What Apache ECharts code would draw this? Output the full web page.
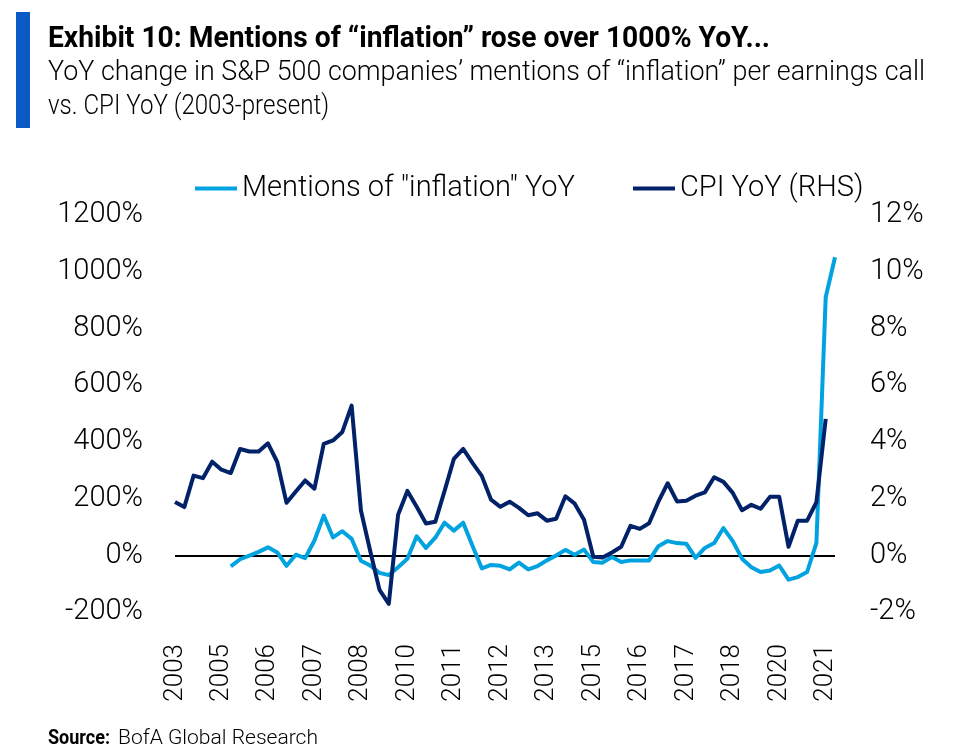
<!DOCTYPE html>
<html>
<head>
<meta charset="utf-8">
<script src="https://cdn.jsdelivr.net/npm/echarts@6/dist/echarts.min.js"></script>
<style>
html,body{margin:0;padding:0;background:#fff;}
#chart{width:960px;height:754px;}
</style>
</head>
<body>
<div id="chart"></div>
<script>
// Quarterly categories (labels shown every 5th quarter, as year)
const categories = [
 '2003Q4',
 '2004Q1','2004Q2','2004Q3','2004Q4',
 '2005Q1','2005Q2','2005Q3','2005Q4',
 '2006Q1','2006Q2','2006Q3','2006Q4',
 '2007Q1','2007Q2','2007Q3','2007Q4',
 '2008Q1','2008Q2','2008Q3','2008Q4',
 '2009Q1','2009Q2','2009Q3','2009Q4',
 '2010Q1','2010Q2','2010Q3','2010Q4',
 '2011Q1','2011Q2','2011Q3','2011Q4',
 '2012Q1','2012Q2','2012Q3','2012Q4',
 '2013Q1','2013Q2','2013Q3','2013Q4',
 '2014Q1','2014Q2','2014Q3','2014Q4',
 '2015Q1','2015Q2','2015Q3','2015Q4',
 '2016Q1','2016Q2','2016Q3','2016Q4',
 '2017Q1','2017Q2','2017Q3','2017Q4',
 '2018Q1','2018Q2','2018Q3','2018Q4',
 '2019Q1','2019Q2','2019Q3','2019Q4',
 '2020Q1','2020Q2','2020Q3','2020Q4',
 '2021Q1','2021Q2','2021Q3'
];

// Mentions of "inflation" YoY (%)
const mentionsYoY = [
 null, null, null, null, null, null,
 -39, -14, -1, 12, 28, 10,
 -37, 2, -10, 52, 140, 63, 85, 58,
 -19, -36, -62, -70, -42, -12, 67, 26,
 62, 115, 87, 115, 34, -46, -34, -37,
 -50, -26, -50, -38, -18, -1, 19, 2,
 20, -24, -26, -6, -24, -18, -18, -18,
 32, 50, 43, 41, -9, 26, 43, 96,
 50, -12, -42, -59, -54, -36, -86, -77,
 -59, 44, 910, 1051
];

// CPI YoY (%) - right axis
const cpiYoY = [
 1.88, 1.70, 2.81, 2.72, 3.30, 3.02, 2.90, 3.75, 3.66, 3.66, 3.95, 3.29,
 1.85, 2.25, 2.64, 2.35, 3.93, 4.05, 4.35, 5.28, 1.58, 0.15, -1.22, -1.71,
 1.43, 2.27, 1.71, 1.12, 1.18, 2.27, 3.40, 3.75, 3.26, 2.80, 1.96, 1.71,
 1.89, 1.67, 1.41, 1.48, 1.22, 1.29, 2.08, 1.82, 1.25, -0.05, -0.08, 0.10,
 0.30, 1.04, 0.93, 1.13, 1.89, 2.54, 1.90, 1.92, 2.10, 2.22, 2.75, 2.59,
 2.20, 1.59, 1.78, 1.64, 2.06, 2.06, 0.30, 1.22, 1.22, 1.87, 4.81, null
];

const leftTicks = {min: -200, max: 1200, interval: 200};
const rightTicks = {min: -2, max: 12, interval: 2};

const seriesNames = ['Mentions of "inflation" YoY', 'CPI YoY (RHS)'];
const colors = ['#00A3DF', '#012169'];

const titleText = 'Exhibit 10: Mentions of \u201Cinflation\u201D rose over 1000% YoY...';
const subtitle1 = 'YoY change in S&P 500 companies\u2019 mentions of \u201Cinflation\u201D per earnings call';
const subtitle2 = 'vs. CPI YoY (2003-present)';

const lightFont = 'Roboto, "Open Sans", sans-serif';
const boldFont = 'Roboto, "Open Sans", sans-serif';

// condense text horizontally to match the reference's narrow typeface
const mctx = document.createElement('canvas').getContext('2d');
function widthOf(text, font) { mctx.font = font; return mctx.measureText(text).width; }
function fitText(text, font, x, y, targetWidth) {
  const w = widthOf(text, font);
  return {type: 'text', x: x, y: y, scaleX: targetWidth / w, scaleY: 1,
    style: {text: text, font: font, fill: '#000', textVerticalAlign: 'top', textAlign: 'left'}};
}

const fTitle = 'bold 29px ' + boldFont;
const fSub = '300 27px ' + lightFont;
const fSrcB = 'bold 20px ' + boldFont;
const fSrc = '300 21px ' + lightFont;

const chart = echarts.init(document.getElementById('chart'), null, {renderer: 'canvas'});
chart.setOption({
  backgroundColor: '#ffffff',
  animation: false,
  graphic: [
    {type: 'rect', shape: {x: 16, y: 12, width: 14, height: 116}, style: {fill: '#0A59C4'}},
    fitText(titleText, fTitle, 48, 25, 722),
    fitText(subtitle1, fSub, 48, 60, 877),
    fitText(subtitle2, fSub, 48, 94, 281),
    fitText('Source:', fSrcB, 48, 729, 62),
    fitText('BofA Global Research', fSrc, 118, 728, 200)
  ],
  legend: {
    top: 169,
    left: 190,
    itemWidth: 42,
    itemHeight: 4,
    itemGap: 58,
    icon: 'rect',
    textStyle: {fontFamily: lightFont, fontWeight: 300, fontSize: 29, color: '#000'},
    data: seriesNames
  },
  grid: {left: 175, right: 125, top: 215, bottom: 142},
  xAxis: {
    type: 'category',
    data: categories,
    boundaryGap: false,
    axisLine: {show: false},
    axisTick: {show: false},
    splitLine: {show: false},
    axisLabel: {
      interval: 4,
      rotate: 90,
      margin: 32,
      fontFamily: lightFont,
      fontWeight: 300,
      fontSize: 26,
      color: '#000',
      formatter: v => v.slice(0, 4)
    }
  },
  yAxis: [
    {
      type: 'value', min: leftTicks.min, max: leftTicks.max, interval: leftTicks.interval,
      axisLine: {show: false}, axisTick: {show: false}, splitLine: {show: false},
      axisLabel: {margin: 32, fontFamily: lightFont, fontWeight: 300, fontSize: 29, color: '#000', formatter: v => v + '%'}
    },
    {
      type: 'value', min: rightTicks.min, max: rightTicks.max, interval: rightTicks.interval,
      axisLine: {show: false}, axisTick: {show: false}, splitLine: {show: false},
      axisLabel: {margin: 35, fontFamily: lightFont, fontWeight: 300, fontSize: 29, color: '#000', formatter: v => v + '%'}
    }
  ],
  series: [
    {
      name: seriesNames[0], type: 'line', yAxisIndex: 0, data: mentionsYoY,
      showSymbol: false, symbol: 'none', connectNulls: false,
      lineStyle: {color: colors[0], width: 4, join: 'round'}, itemStyle: {color: colors[0]},
      z: 3,
      markLine: {
        silent: true, symbol: ['none', 'none'], label: {show: false},
        lineStyle: {color: '#000', width: 2, type: 'solid'},
        data: [{yAxis: 0}], z: 1
      }
    },
    {
      name: seriesNames[1], type: 'line', yAxisIndex: 1, data: cpiYoY,
      showSymbol: false, symbol: 'none',
      lineStyle: {color: colors[1], width: 4, join: 'round'}, itemStyle: {color: colors[1]},
      z: 4
    }
  ]
});
</script>
</body>
</html>
